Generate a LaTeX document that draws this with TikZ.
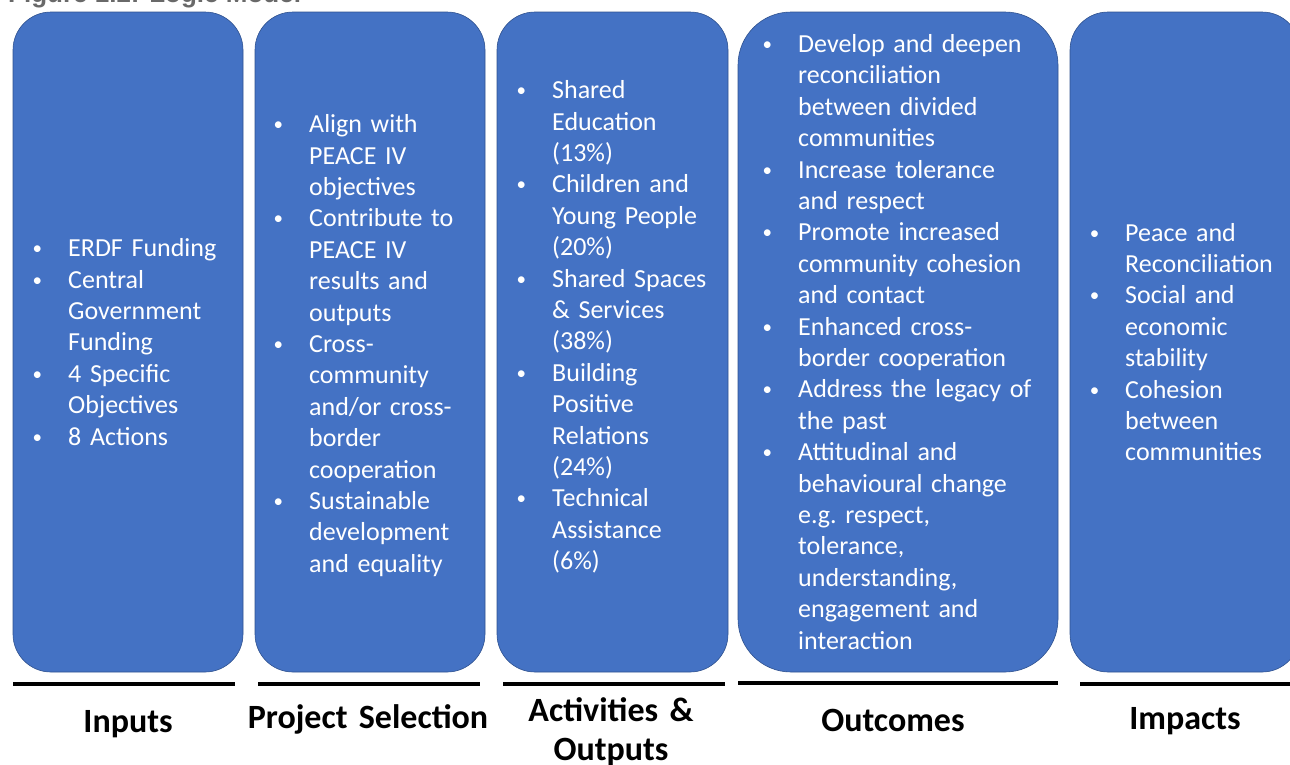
\documentclass[tikz,border=0pt]{standalone}
\usepackage{fontspec}
\setmainfont{Carlito}
\newfontfamily\captionfont{Liberation Sans}
\usetikzlibrary{positioning}

\definecolor{boxblue}{RGB}{68,114,196}
\definecolor{boxedge}{RGB}{47,82,143}
\definecolor{titlegrey}{RGB}{105,105,105}

% small bullet hung to the left of the item text
\newcommand{\bul}{\leavevmode\llap{\raisebox{2pt}{\fontsize{19}{19}\selectfont\textbullet}\hspace{26pt}}}

\tikzset{
  stage/.style={draw=boxedge, line width=0.6pt, fill=boxblue, anchor=north west,
    minimum height=660pt, inner sep=0pt, outer sep=0pt},
  items/.style={text=white, anchor=base west, inner sep=0pt, text width=260pt,
    align=left, font=\fontsize{26}{31.4}\selectfont},
  heading/.style={anchor=base, inner sep=0pt, text width=260pt, align=center,
    font=\fontsize{34}{39}\selectfont\bfseries},
  rule/.style={line width=3.5pt}
}

\begin{document}
\begin{tikzpicture}[x=1pt, y=-1pt]
  \useasboundingbox (0,0) rectangle (1290,764);
  \clip (0,0) rectangle (1290,764);

  \node [anchor=base west, inner sep=0pt, text=titlegrey,
    font=\captionfont\bfseries\fontsize{26}{30}\selectfont] (title) at (8,2)
    {Figure 1.2: Logic Model};

  % the five stages
  \node [stage, minimum width=230pt, rounded corners=38pt] (inputs) at (13,12) {};
  \node [stage, minimum width=230pt, rounded corners=38pt, right=12pt of inputs] (selection) {};
  \node [stage, minimum width=231pt, rounded corners=38pt, right=12pt of selection] (activities) {};
  \node [stage, minimum width=320pt, rounded corners=53pt, right=10pt of activities] (outcomes) {};
  \node [stage, minimum width=230pt, rounded corners=38pt, right=12pt of outcomes] (impacts) {};

  \node [items] (inputs-list) at (68,256.7) {
    \bul ERDF Funding\\
    \bul Central\\ Government\\ Funding\\
    \bul 4 Specific\\ Objectives\\
    \bul 8 Actions};
  \node [items] (selection-list) at (309,132.7) {
    \bul Align with\\ PEACE IV\\ objectives\\
    \bul Contribute to\\ PEACE IV\\ results and\\ outputs\\
    \bul Cross-\\ community\\ and/or cross-\\ border\\ cooperation\\
    \bul Sustainable\\ development\\ and equality};
  \node [items] (activities-list) at (552,98.7) {
    \bul Shared\\ Education\\ (13\%)\\
    \bul Children and\\ Young People\\ (20\%)\\
    \bul Shared Spaces\\ \& Services\\ (38\%)\\
    \bul Building\\ Positive\\ Relations\\ (24\%)\\
    \bul Technical\\ Assistance\\ (6\%)};
  \node [items] (outcomes-list) at (798,52.5) {
    \bul Develop and deepen\\ reconciliation\\ between divided\\ communities\\
    \bul Increase tolerance\\ and respect\\
    \bul Promote increased\\ community cohesion\\ and contact\\
    \bul Enhanced cross-\\ border cooperation\\
    \bul Address the legacy of\\ the past\\
    \bul Attitudinal and\\ behavioural change\\ e.g.\ respect,\\ tolerance,\\
    understanding,\\ engagement and\\ interaction};
  \node [items] (impacts-list) at (1125,241) {
    \bul Peace and\\ Reconciliation\\
    \bul Social and\\ economic\\ stability\\
    \bul Cohesion\\ between\\ communities};

  % rules and headings underneath
  \draw [rule] (13,684) -- (235,684);
  \draw [rule] (258,684) -- (480,684);
  \draw [rule] (503,684) -- (725,684);
  \draw [rule] (738,683) -- (1058,683);
  \draw [rule] (1080,684) -- (1300,684);

  \node [heading] (inputs-name) at (128,732) {Inputs};
  \node [heading] (selection-name) at (368,728) {Project Selection};
  \node [heading] (activities-name) at (611,721) {Activities \&\\ Outputs};
  \node [heading] (outcomes-name) at (893,731) {Outcomes};
  \node [heading] (impacts-name) at (1185,729) {Impacts};
\end{tikzpicture}
\end{document}
